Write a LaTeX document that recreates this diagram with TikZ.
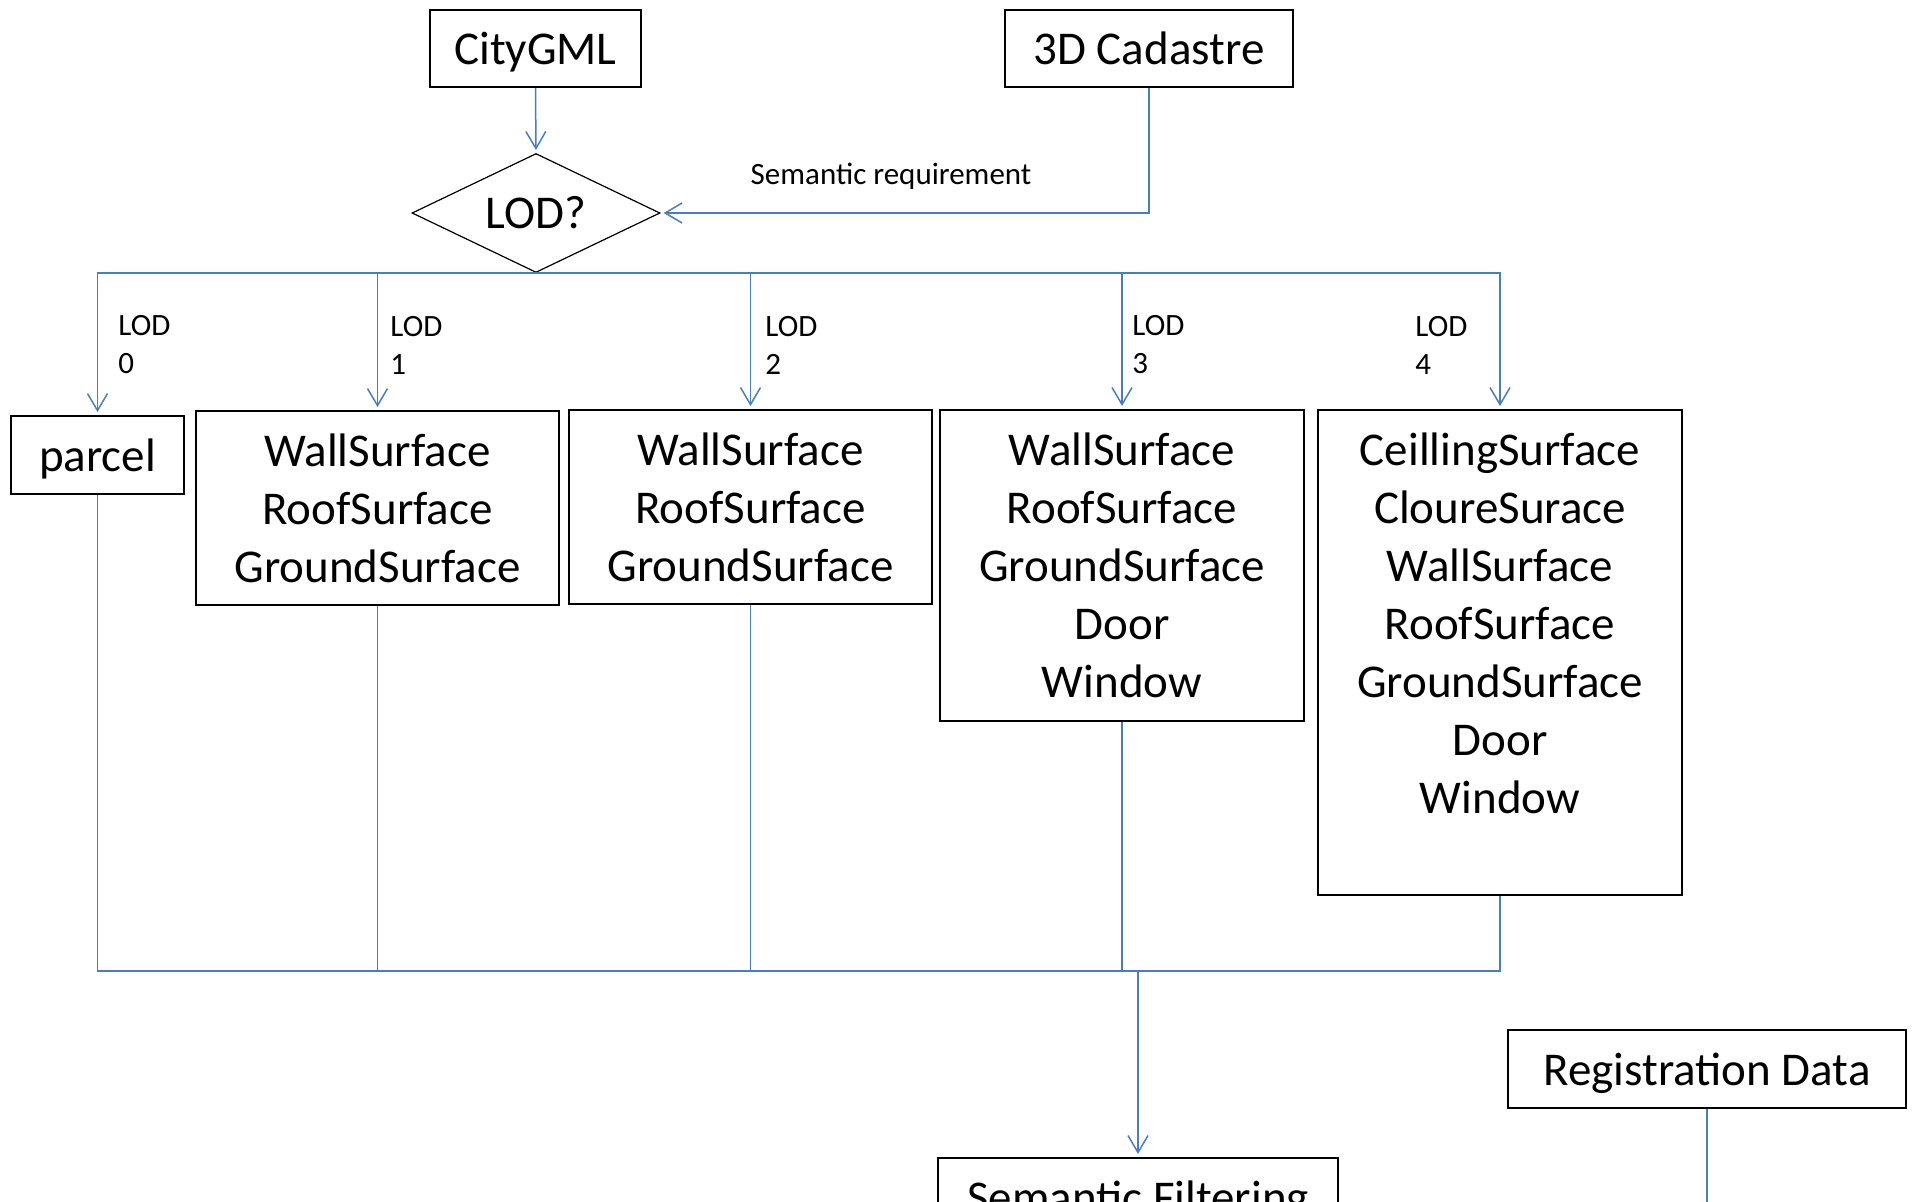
\documentclass[tikz,border=0pt]{standalone}
\usepackage{fontspec}
\setmainfont{Carlito}
\usetikzlibrary{shapes.geometric,arrows.meta}
\definecolor{lineblue}{HTML}{4A7EBB}

\begin{document}
\begin{tikzpicture}
  [x=0.5pt,y=-0.5pt,
   every node/.style={inner sep=0pt,align=center,font=\fontsize{23.5}{29}\selectfont},
   box/.style={draw,line width=1pt},
   onebox/.style={box,text depth=0pt},
   lab/.style={anchor=west,align=left,font=\fontsize{15.5}{19}\selectfont},
   arr/.style={draw=lineblue,line width=0.75pt,shorten >=1.5pt,-{Straight Barb[length=8.5pt,width=10pt]}},
   wire/.style={draw=lineblue,line width=0.75pt}]
  \useasboundingbox (0,0) rectangle (1912,1201);
  \clip (0,0) rectangle (1912,1201);

  \node[onebox,minimum width=105.5pt,minimum height=38.5pt] (city) at (535.5,48.5) {CityGML};
  \node[onebox,minimum width=144pt,minimum height=38.5pt] (cad) at (1149,48.5) {3D Cadastre};
  \node[draw,diamond,shape aspect=2,line width=0.6pt,minimum width=124pt,minimum height=59.5pt] (lod) at (536,213) {LOD?};
  \node[font=\fontsize{15.5}{19}\selectfont] (req) at (891,176) {Semantic requirement};

  \node[onebox,minimum width=86.5pt,minimum height=39pt] (parcel) at (97.5,455) {parcel};
  \node[box,minimum width=181.5pt,minimum height=97pt] (lod1) at (377.5,508) {WallSurface\\RoofSurface\\GroundSurface};
  \node[box,minimum width=181.5pt,minimum height=97pt] (lod2) at (750.5,507) {WallSurface\\RoofSurface\\GroundSurface};
  \node[box,minimum width=182pt,minimum height=155.5pt] (lod3) at (1122,565.5) {WallSurface\\RoofSurface\\GroundSurface\\Door\\Window};
  \node[box,minimum width=182pt,minimum height=242.5pt] (lod4) at (1500,652.5) {CeillingSurface\\CloureSurace\\WallSurface\\RoofSurface\\GroundSurface\\Door\\Window\\\mbox{}};

  \node[lab] (l0) at (118,345) {LOD\\0};
  \node[lab] (l1) at (390,345) {LOD\\1};
  \node[lab] (l2) at (765,345) {LOD\\2};
  \node[lab] (l3) at (1132,345) {LOD\\3};
  \node[lab] (l4) at (1415,345) {LOD\\4};

  \node[onebox,minimum width=200pt,minimum height=39pt] (filt) at (1138,1197) {Semantic Filtering};
  \node[onebox,minimum width=199pt,minimum height=39pt] (reg) at (1707,1069) {Registration Data};

  \coordinate (join) at (1138,971);
  \coordinate (regend) at (1707,1230);

  \draw[arr] (city.south) -- (lod.north);
  \draw[arr] (cad.south) |- (lod.east);

  \draw[arr] (lod.south) -| (parcel.north);
  \draw[arr] (lod.south) -| (lod1.north);
  \draw[arr] (lod.south) -| (lod2.north);
  \draw[arr] (lod.south) -| (lod3.north);
  \draw[arr] (lod.south) -| (lod4.north);

  \draw[wire] (parcel.south) |- (join);
  \draw[wire] (lod1.south) |- (join);
  \draw[wire] (lod2.south) |- (join);
  \draw[wire] (lod3.south) |- (join);
  \draw[wire] (lod4.south) |- (join);
  \draw[arr] (join) -- (filt.north);

  \draw[wire] (reg.south) -- (regend);
\end{tikzpicture}
\end{document}
